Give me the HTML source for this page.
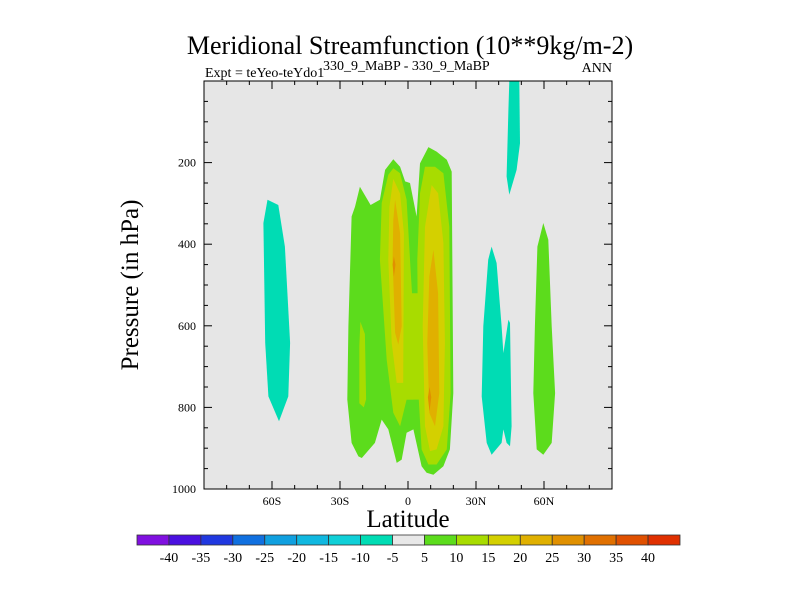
<!DOCTYPE html>
<html><head><meta charset="utf-8"><style>
html,body{margin:0;padding:0;background:#fff;}
svg{display:block;font-family:"Liberation Serif",serif;}
</style></head><body>
<svg id="chart" width="800" height="600" viewBox="0 0 800 600">
<text x="410" y="54" font-size="26" text-anchor="middle">Meridional Streamfunction (10**9kg/m-2)</text>
<text x="205" y="77" font-size="14">Expt = teYeo-teYdo1</text>
<text x="323" y="70" font-size="14">330_9_MaBP - 330_9_MaBP</text>
<text x="612" y="72" font-size="14" text-anchor="end">ANN</text>
<rect x="204" y="81" width="408" height="408" fill="#e6e6e6"/>
<g id="contours"></g>
<g id="axes"></g>
<rect x="204" y="81" width="408" height="408" fill="none" stroke="#000" stroke-width="1"/>
<text transform="translate(138,285) rotate(-90)" font-size="25" text-anchor="middle">Pressure (in hPa)</text>
<text x="408" y="527" font-size="25" text-anchor="middle">Latitude</text>
<g id="colorbar"></g>
</svg>
<script>
const latTicks=[-60,-30,0,30,60];
const latTickLabels=["60S","30S","0","30N","60N"];
const presTicks=[200,400,600,800,1000];
const cbLevels=[-40,-35,-30,-25,-20,-15,-10,-5,5,10,15,20,25,30,35,40];
const cbColors=["#8010e0","#4a10e0","#2038e0","#1070e0","#10a0e0","#10b8e0","#10d0d8","#00dcb4","#e8e8e8","#5cdc1c","#a8dc00","#d4d000","#e0b000","#e09000","#e07000","#e05000","#e03000"];
const shapeLevels=[-5,5,10,10,10,10,15,15,20,20,25,25,-5,-5,5];
const shapeLats=[
[-62,-57.2,-54.3,-52,-52.8,-56.9,-61.6,-63,-63.8],
[-21.2,-16.5,-12.4,-10.1,-6.5,-3.5,-1.3,0.9,3.8,5.3,9,12.6,17.1,19.3,20,18.5,15.6,11.2,8.2,6,2.4,-0.6,-2.8,-5,-8.7,-11.6,-14.6,-20.4,-21.9,-24.9,-26.8,-26.3,-24.9,-23.4],
[-21,-19,-18.5,-19.5,-21.5,-21.5],
[-8.7,-6.5,-3.5,-0.6,0.9,3.1,2.4,-0.6,-3.5,-6.5,-9.4,-12.4,-11.6],
[7.5,11.9,15.6,18.2,18.8,17.1,12.6,9,6,4.6,4.1,5.3],
[0.9,5.3,5.3,-0.6],
[-6.5,-3.5,-1.8,-2.1,-5,-7.2,-8.7,-8.2],
[10.4,13.3,15.6,16.3,15.6,12.6,9.7,7.5,6.5,7.5],
[-5.7,-3.5,-2.8,-4.3,-5.7,-6.8,-6.5],
[11.2,13.3,13.8,11.9,9.4,8.5,9.4],
[-6.2,-5.5,-6.2,-6.8],
[9.5,10.3,9.5,8.8],
[36.9,39.1,41.3,42.1,44.3,45,45.7,45,43.5,42.1,41.3,36.9,34.7,32.5,33.2,35.4],
[44.7,49.1,49.4,47.9,44.7,43.5,44.3],
[59.7,61.9,63.4,64.9,63.4,59.7,56.8,55.3,56,57.1]
];
const shapePres=[
[291,304,406,642,773,834,773,642,348],
[259,304,291,218,192,210,246,250,332,202,162,173,193,222,765,903,944,965,960,944,854,862,928,936,854,830,887,924,920,887,781,601,332,308],
[590,620,780,800,790,650],
[230,214,226,291,438,642,781,781,846,813,683,438,299],
[210,210,226,357,765,903,940,940,903,765,438,275],
[520,520,781,781],
[240,276,373,740,740,642,438,308],
[255,275,397,642,846,903,907,846,601,357],
[291,373,601,646,617,438,340],
[414,520,765,846,813,642,479],
[430,450,480,450],
[750,775,810,775],
[406,446,601,667,585,593,846,895,887,854,887,916,887,773,601,438],
[0,0,153,218,279,234,71],
[348,389,601,765,887,916,903,765,601,406]
];
const NS="http://www.w3.org/2000/svg";
const X0=204,X1=612,Y0=81,Y1=489;
function xs(lat){return X0+(lat+90)/180*(X1-X0);}
function ys(p){return Y0+p/1000*(Y1-Y0);}
function colorFor(v){const i=cbLevels.indexOf(v);return v<0?cbColors[i]:cbColors[i+1];}
function mk(tag,attrs,parent){const e=document.createElementNS(NS,tag);for(const k in attrs)e.setAttribute(k,attrs[k]);parent.appendChild(e);return e;}
const cg=document.getElementById('contours');
shapeLevels.forEach((lv,i)=>{
  const pts=shapeLats[i].map((la,j)=>xs(la).toFixed(1)+","+ys(shapePres[i][j]).toFixed(1)).join(" ");
  const e=mk('polygon',{points:pts,fill:colorFor(lv)},cg);
  
  
});
const ag=document.getElementById('axes');
for(let p=50;p<1000;p+=50){
  const y=ys(p),L=(p%200===0)?8:4;
  const t1=mk('line',{x1:X0,y1:y,x2:X0+L,y2:y,stroke:'#000'},ag);
  
  
  const t2=mk('line',{x1:X1,y1:y,x2:X1-L,y2:y,stroke:'#000'},ag);
  
  
}
presTicks.forEach(p=>{
  const t=mk('text',{x:X0-8,y:ys(p)+4,'font-size':12,'text-anchor':'end'},ag);t.textContent=p;
  
  
});
for(let la=-80;la<=80;la+=10){
  const x=xs(la),L=(la%30===0)?8:4;
  const t1=mk('line',{x1:x,y1:Y1,x2:x,y2:Y1-L,stroke:'#000'},ag);
  
  
  const t2=mk('line',{x1:x,y1:Y0,x2:x,y2:Y0+L,stroke:'#000'},ag);
  
  
}
latTicks.forEach((la,i)=>{
  const t=mk('text',{x:xs(la),y:Y1+16,'font-size':12,'text-anchor':'middle'},ag);t.textContent=latTickLabels[i];
  
  
});
const cb=document.getElementById('colorbar');
const CB0=137,CB1=680,cw=(CB1-CB0)/cbColors.length;
cbColors.forEach((c,i)=>{
  const r=mk('rect',{x:CB0+i*cw,y:535,width:cw,height:10,fill:c,stroke:'#333','stroke-width':0.8},cb);
  
  
});
cbLevels.forEach((v,i)=>{
  const t=mk('text',{x:CB0+(i+1)*cw,y:562,'font-size':14,'text-anchor':'middle'},cb);t.textContent=v;
  
  
});
</script>
</body></html>
